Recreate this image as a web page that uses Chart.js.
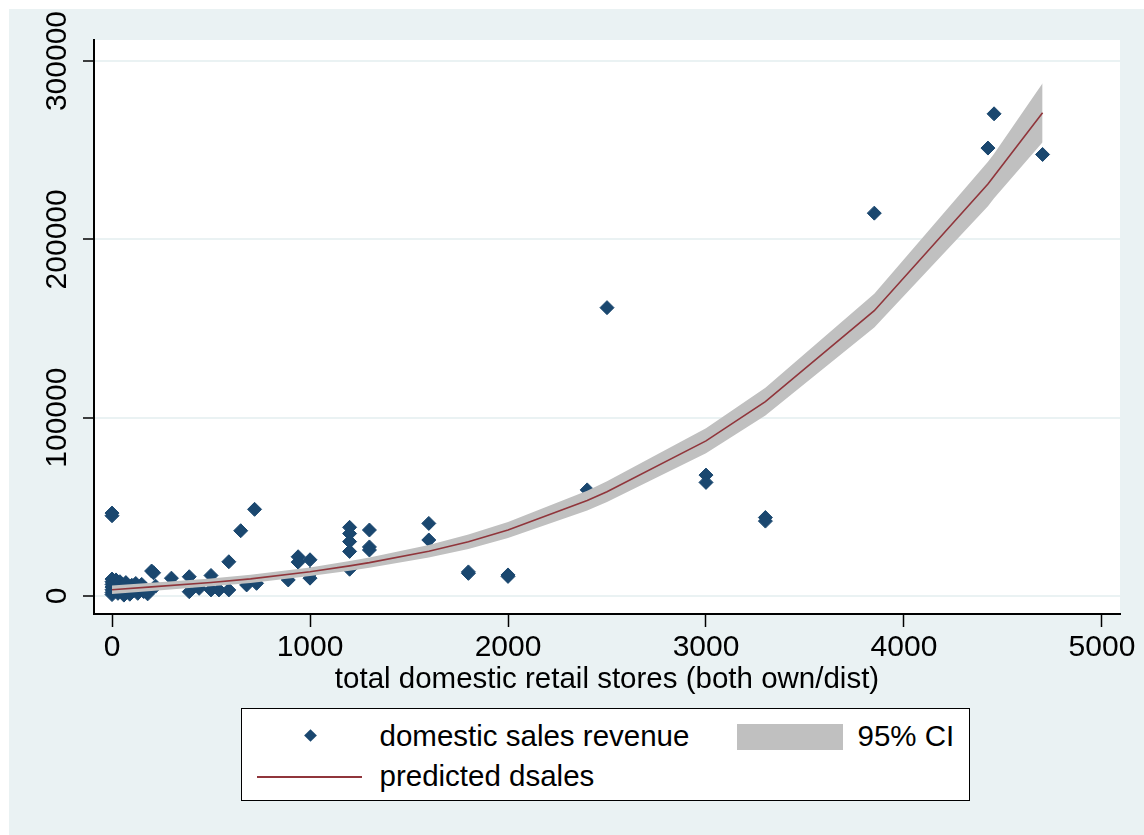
<!DOCTYPE html>
<html>
<head>
<meta charset="utf-8">
<script src="https://cdn.jsdelivr.net/npm/chart.js@4.4.1/dist/chart.umd.min.js"></script>
<style>
  html, body { margin: 0; padding: 0; background: #ffffff; }
  #wrap { position: relative; width: 1144px; height: 835px; overflow: hidden; }
  #chart { position: absolute; left: 0; top: 0; }
  #legend {
    position: absolute; left: 241px; top: 708px; width: 729px; height: 93px;
    box-sizing: border-box; border: 1.5px solid #000; background: #ffffff;
    font-family: "Liberation Sans", Arial, sans-serif; font-size: 29.5px; color: #000;
  }
  .lg { position: absolute; white-space: nowrap; line-height: 34px; }
</style>
</head>
<body>
<div id="wrap">
  <canvas id="chart" width="1144" height="835"></canvas>
  <div id="legend"></div>
</div>
<script>
// Observed firms: store count vs domestic sales revenue
const storesX = [
  0, 0, 0, 0, 0, 0, 0, 0, 0,
  10, 15, 20, 25, 30, 40, 45, 50, 55, 60,
  70, 80, 90, 100, 110, 120, 130, 140, 150, 160, 170, 180, 190, 200, 210, 220,
  300, 390, 390, 440, 500, 500, 540, 590, 590, 650, 680, 720, 730, 890, 940, 940, 1000, 1000, 1000,
  1200, 1200, 1200, 1200, 1200,
  1300, 1300, 1300,
  1600, 1600,
  1800, 1800,
  2000, 2000,
  2400, 2500, 3000, 3000, 3300, 3300, 3850, 4424, 4455, 4700
];
const salesY = [
  46500, 45000, 9500, 8000, 6500, 5000, 3500, 2000, 800,
  7000, 3000, 9000, 5500, 1500, 8000, 4000, 6500, 2000, 500,
  7500, 4500, 1000, 6000, 3000, 7000, 1500, 5000, 6500, 2500, 4000, 1200, 3000, 14000, 13000, 5500,
  10000, 10800, 2400, 4300, 11500, 3400, 3400, 19200, 3400, 36600, 6200, 48600, 7100, 9000, 22000, 19000, 20300, 10000, 12300,
  38500, 35000, 30500, 25000, 15000,
  37000, 27500, 25800,
  40700, 31400,
  12700, 13500,
  11800, 11000,
  59500, 161700, 67800, 63700, 44000, 42000, 214700, 251200, 270400, 247600
];

// Fitted values and 95% confidence limits at the observed store counts
const fitX    = [0, 200, 500, 700, 1000, 1200, 1300, 1600, 1800, 2000, 2400, 2500, 3000, 3300, 3850, 4424, 4455, 4700];
const fitPred = [3500, 5100, 7600, 9600, 13600, 16900, 18700, 25100, 30400, 37000, 53500, 58500, 87000, 109000, 160000, 231000, 235500, 271000];
const ciUpper = [5900, 7400, 9800, 11900, 16000, 19600, 21600, 28600, 34500, 41500, 59000, 64300, 94000, 116800, 169500, 243500, 248000, 287500];
const ciLower = [1100, 2800, 5400, 7300, 11200, 14200, 15800, 21600, 26300, 32500, 48000, 52700, 80000, 101200, 150500, 218500, 223000, 254500];

const xTicks = [0, 1000, 2000, 3000, 4000, 5000];
const yTicks = [0, 100000, 200000, 300000];
const xTitle = 'total domestic retail stores (both own/dist)';
const seriesNames = ['domestic sales revenue', '95% CI', 'predicted dsales'];

const NAVY = '#1a476f';
const MAROON = '#90353b';
const BAND = '#c0c0c0';
const REGION = '#eaf2f3';
const FONT = '"Liberation Sans", Arial, sans-serif';

const toPoints = (xs, ys) => xs.map((x, i) => ({ x: x, y: ys[i] }));

// Paints the outer graph region and the white plot region behind everything
const backdrop = {
  id: 'backdrop',
  beforeDraw(chart) {
    const { ctx, width, height, chartArea: a } = chart;
    ctx.save();
    ctx.fillStyle = '#ffffff';
    ctx.fillRect(0, 0, width, height);
    ctx.fillStyle = REGION;
    ctx.fillRect(9, 9, width - 9, height - 9);
    ctx.fillStyle = '#ffffff';
    ctx.fillRect(a.left, a.top, a.right - a.left, a.bottom - a.top);
    ctx.restore();
  }
};

new Chart(document.getElementById('chart'), {
  type: 'scatter',
  data: {
    datasets: [
      {
        label: seriesNames[2],
        data: toPoints(fitX, fitPred),
        showLine: true,
        borderColor: MAROON,
        borderWidth: 1.6,
        pointRadius: 0,
        tension: 0,
        fill: false
      },
      {
        label: seriesNames[1],
        data: toPoints(fitX, ciUpper),
        showLine: true,
        borderColor: 'rgba(0,0,0,0)',
        borderWidth: 0,
        pointRadius: 0,
        tension: 0,
        backgroundColor: BAND,
        fill: '+1'
      },
      {
        label: seriesNames[1] + ' lower',
        data: toPoints(fitX, ciLower),
        showLine: true,
        borderColor: 'rgba(0,0,0,0)',
        borderWidth: 0,
        pointRadius: 0,
        tension: 0,
        fill: false
      },
      {
        label: seriesNames[0],
        data: toPoints(storesX, salesY),
        showLine: false,
        pointStyle: 'rectRot',
        pointRadius: 7,
        pointBorderWidth: 1,
        backgroundColor: NAVY,
        borderColor: NAVY
      }
    ]
  },
  options: {
    responsive: false,
    devicePixelRatio: 1,
    animation: false,
    layout: { padding: { top: 40, right: 24, bottom: 0, left: 0 } },
    plugins: {
      legend: { display: false },
      tooltip: { enabled: false }
    },
    scales: {
      x: {
        type: 'linear',
        min: -91,
        max: 5091,
        afterBuildTicks: s => { s.ticks = xTicks.map(v => ({ value: v })); },
        afterFit: s => { s.height = 221; },
        grid: {
          display: true, drawOnChartArea: false, drawTicks: true,
          tickLength: 13, tickColor: '#000', tickWidth: 1.5
        },
        border: { display: true, color: '#000', width: 2 },
        ticks: {
          font: { family: FONT, size: 30 }, color: '#000', padding: 3,
          maxRotation: 0, minRotation: 0, autoSkip: false,
          callback: v => String(v)
        },
        title: {
          display: true, text: xTitle, color: '#000',
          font: { family: FONT, size: 29.5 },
          padding: { top: 0, bottom: 137 }
        }
      },
      y: {
        type: 'linear',
        min: -10100,
        max: 311800,
        afterBuildTicks: s => { s.ticks = yTicks.map(v => ({ value: v })); },
        afterFit: s => { s.width = 94; },
        grid: {
          color: REGION, lineWidth: 2, drawTicks: true,
          tickLength: 11, tickColor: '#000', tickWidth: 1.5
        },
        border: { display: true, color: '#000', width: 2 },
        ticks: {
          font: { family: FONT, size: 30 }, color: '#000',
          minRotation: 90, maxRotation: 90, crossAlign: 'center', padding: -24.5,
          autoSkip: false,
          callback: v => String(v)
        }
      }
    }
  },
  plugins: [backdrop]
});

// Boxed key below the plot
(function buildKey() {
  const box = document.getElementById('legend');
  const add = (css, text) => {
    const el = document.createElement('div');
    el.style.cssText = 'position:absolute;' + css;
    if (text !== undefined) { el.className = 'lg'; el.textContent = text; }
    box.appendChild(el);
  };
  add('left:63.5px;top:21.5px;width:9px;height:9px;background:' + NAVY + ';transform:rotate(45deg);');
  add('left:137.5px;top:10px;', seriesNames[0]);
  add('left:494.5px;top:14.5px;width:106px;height:26px;background:' + BAND + ';');
  add('left:615.5px;top:10px;', seriesNames[1]);
  add('left:14.5px;top:66.5px;width:105px;height:2px;background:' + MAROON + ';');
  add('left:137.5px;top:50px;', seriesNames[2]);
})();
</script>
</body>
</html>
